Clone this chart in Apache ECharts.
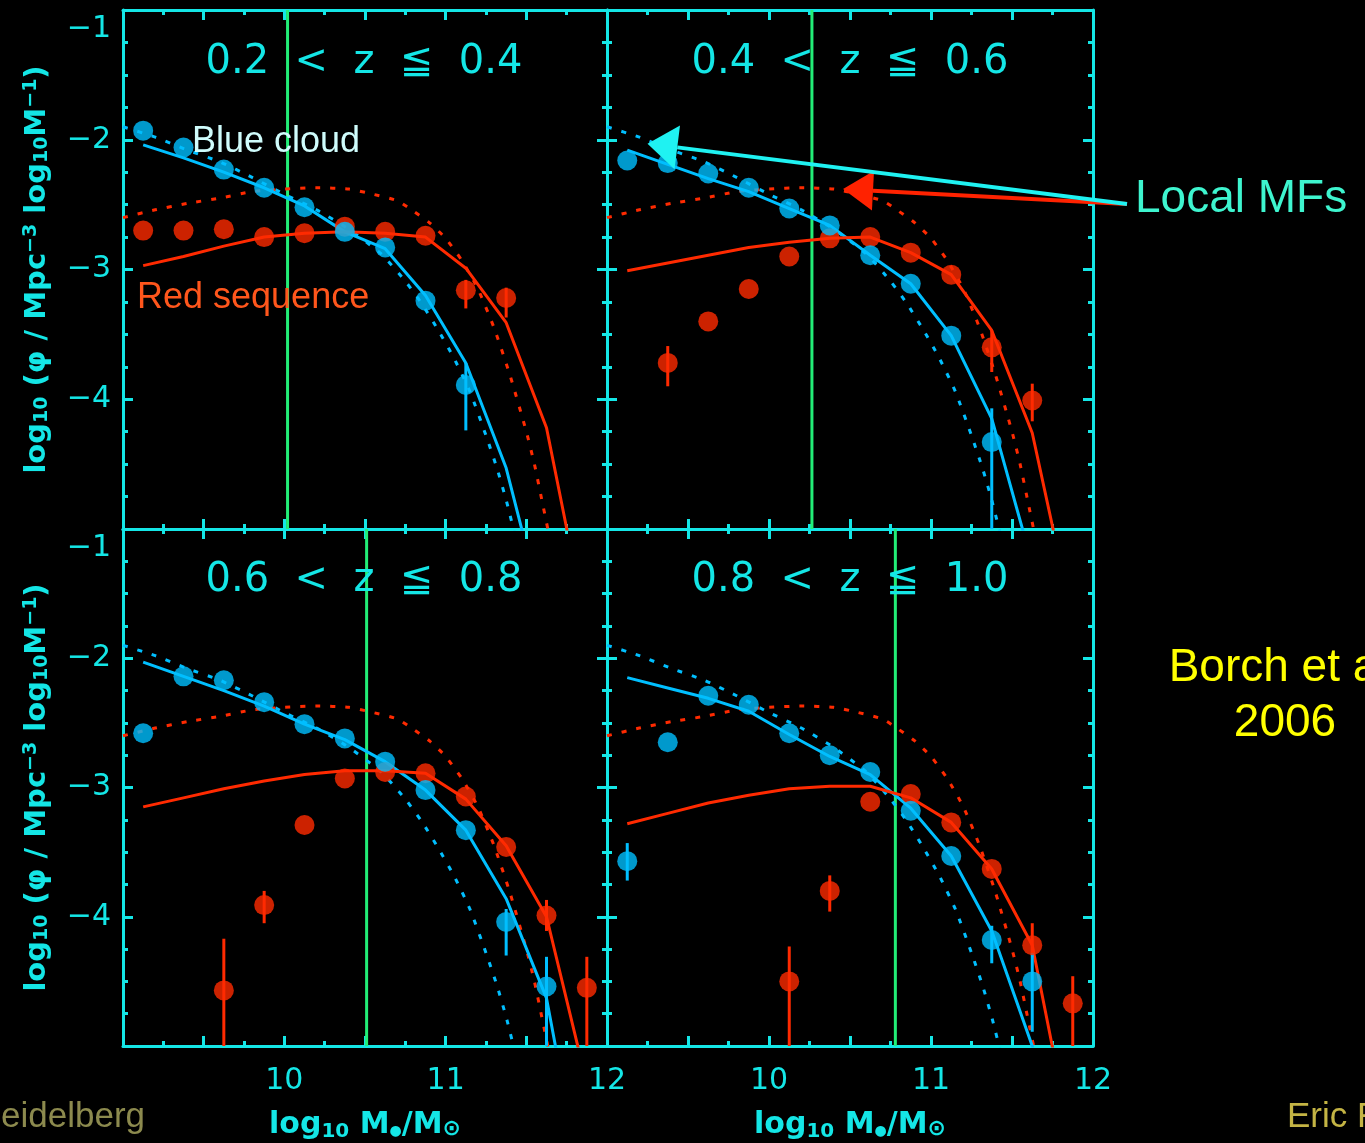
<!DOCTYPE html>
<html><head><meta charset="utf-8">
<script src="https://cdn.jsdelivr.net/npm/echarts@6/dist/echarts.min.js"></script>
<style>html,body{margin:0;padding:0;background:#000;overflow:hidden}#c{width:1365px;height:1143px}</style>
</head><body><div id="c"></div>
<script>
// ---------- data ----------
const massBins = [9.125, 9.375, 9.625, 9.875, 10.125, 10.375, 10.625, 10.875, 11.125, 11.375, 11.625, 11.875];

const panelTitles = ['0.2  <  z  \u2266  0.4', '0.4  <  z  \u2266  0.6', '0.6  <  z  \u2266  0.8', '0.8  <  z  \u2266  1.0'];
const completenessLimit = [10.02, 10.265, 10.51, 10.78];
const xTickLabels = ['10', '11', '12'];
const yTickLabels = [-1, -2, -3, -4];

// local (z~0) mass functions, same in every panel
const localBlueMF = [[9.0,-1.90],[9.2,-1.98],[9.4,-2.08],[9.6,-2.17],[9.8,-2.29],[10.0,-2.42],[10.2,-2.54],[10.4,-2.69],[10.6,-2.88],[10.75,-3.09],[10.85,-3.26],[10.95,-3.46],[11.05,-3.68],[11.15,-3.94],[11.25,-4.28],[11.32,-4.54],[11.38,-4.80],[11.43,-5.05]];
const localRedMF = [[9.0,-2.60],[9.2,-2.54],[9.4,-2.49],[9.6,-2.45],[9.8,-2.40],[10.0,-2.38],[10.2,-2.37],[10.4,-2.38],[10.55,-2.42],[10.7,-2.47],[10.8,-2.55],[10.9,-2.64],[11.0,-2.76],[11.1,-2.93],[11.2,-3.15],[11.3,-3.45],[11.4,-3.82],[11.5,-4.25],[11.55,-4.50],[11.6,-4.80],[11.65,-5.10]];

// 0.2 < z <= 0.4
const blueObs_z02 = [-1.93,-2.06,-2.23,-2.37,-2.52,-2.71,-2.83,-3.24,-3.89,null,null,null];
const redObs_z02  = [-2.70,-2.70,-2.69,-2.75,-2.72,-2.67,-2.71,-2.74,-3.16,-3.22,null,null];
const blueFit_z02 = [-2.04,-2.14,-2.25,-2.37,-2.51,-2.71,-2.84,-3.20,-3.72,-4.53,-5.75,null];
const redFit_z02  = [-2.97,-2.90,-2.82,-2.75,-2.72,-2.71,-2.72,-2.75,-2.99,-3.41,-4.22,-5.77];
const errBlue_z02 = [[11.125,-3.72,-4.24]];
const errRed_z02  = [[11.125,-3.08,-3.30],[11.375,-3.14,-3.37]];

// 0.4 < z <= 0.6
const blueObs_z04 = [-2.16,-2.18,-2.26,-2.37,-2.53,-2.66,-2.89,-3.11,-3.51,-4.33,null,null];
const redObs_z04  = [null,-3.72,-3.40,-3.15,-2.90,-2.76,-2.75,-2.87,-3.04,-3.60,-4.01,null];
const blueFit_z04 = [-2.08,-2.19,-2.30,-2.40,-2.53,-2.66,-2.89,-3.11,-3.51,-4.15,-5.27,null];
const redFit_z04  = [-3.01,-2.95,-2.89,-2.83,-2.79,-2.76,-2.75,-2.87,-3.04,-3.47,-4.26,-5.70];
const errBlue_z04 = [[11.375,-4.07,-5.5]];
const errRed_z04  = [[9.375,-3.59,-3.90],[11.375,-3.47,-3.79],[11.625,-3.88,-4.17]];

// 0.6 < z <= 0.8
const blueObs_z06 = [-2.58,-2.14,-2.17,-2.34,-2.51,-2.62,-2.80,-3.02,-3.33,-4.04,-4.54,null];
const redObs_z06  = [null,null,-4.57,-3.91,-3.29,-2.93,-2.88,-2.89,-3.07,-3.46,-3.99,-4.55];
const blueFit_z06 = [-2.03,-2.14,-2.25,-2.37,-2.51,-2.63,-2.80,-3.02,-3.33,-3.86,-4.63,-6.30];
const redFit_z06  = [-3.15,-3.08,-3.01,-2.95,-2.90,-2.87,-2.87,-2.89,-3.09,-3.45,-4.00,-5.29];
const errBlue_z06 = [[11.375,-3.94,-4.30],[11.625,-4.31,-5.5]];
const errRed_z06  = [[9.625,-4.17,-5.5],[9.875,-3.80,-4.05],[11.625,-3.87,-4.11],[11.875,-4.31,-5.5]];

// 0.8 < z <= 1.0
const blueObs_z08 = [-3.57,-2.65,-2.29,-2.36,-2.58,-2.75,-2.88,-3.18,-3.53,-4.18,-4.50,null];
const redObs_z08  = [null,null,null,null,-4.50,-3.80,-3.11,-3.05,-3.27,-3.63,-4.22,-4.67];
const blueFit_z08 = [-2.15,-2.23,-2.31,-2.41,-2.59,-2.76,-2.90,-3.16,-3.53,-4.11,-5.00,-6.00];
const redFit_z08  = [-3.28,-3.20,-3.12,-3.06,-3.01,-2.99,-2.99,-3.08,-3.27,-3.63,-4.22,-5.80];
const errBlue_z08 = [[9.125,-3.43,-3.72],[11.375,-4.07,-4.36],[11.625,-4.28,-4.89]];
const errRed_z08  = [[10.125,-4.23,-5.5],[10.375,-3.68,-3.96],[11.625,-4.05,-4.30],[11.875,-4.46,-5.5]];

// annotation arrows (data coords of the 0.4<z<=0.6 panel)
const arrowTail = [12.21, -2.495];
const arrowTipBlue = [9.25, -2.03];
const arrowTipRed = [10.457, -2.38];

// ---------- styling ----------
const CYAN = '#14e6e6', BLUE = '#00bfff', RED = '#ff2a00', GREEN = '#22ee77';
const FONT = '"DejaVu Sans", "Noto Sans", sans-serif';

const panels = [
  {blueObs: blueObs_z02, redObs: redObs_z02, blueFit: blueFit_z02, redFit: redFit_z02, errBlue: errBlue_z02, errRed: errRed_z02},
  {blueObs: blueObs_z04, redObs: redObs_z04, blueFit: blueFit_z04, redFit: redFit_z04, errBlue: errBlue_z04, errRed: errRed_z04},
  {blueObs: blueObs_z06, redObs: redObs_z06, blueFit: blueFit_z06, redFit: redFit_z06, errBlue: errBlue_z06, errRed: errRed_z06},
  {blueObs: blueObs_z08, redObs: redObs_z08, blueFit: blueFit_z08, redFit: redFit_z08, errBlue: errBlue_z08, errRed: errRed_z08}
];

const grids = [
  {left: 123, top: 10, width: 484, height: 519},
  {left: 607, top: 10, width: 486, height: 519},
  {left: 123, top: 529, width: 484, height: 519},
  {left: 607, top: 529, width: 486, height: 519}
];

function pairs(ys) {
  const out = [];
  ys.forEach((y, k) => { if (y !== null) out.push([massBins[k], y]); });
  return out;
}

const tickStyle = {color: CYAN, width: 3};
function xAxisCfg(i, pos, labels) {
  return {
    type: 'value', gridIndex: i, position: pos, min: 9, max: 12, interval: 0.5,
    axisLine: {show: true, onZero: false, lineStyle: {color: CYAN, width: 3}},
    axisTick: {show: true, inside: true, length: 10, lineStyle: tickStyle},
    minorTick: {show: true, splitNumber: 2, length: 5, lineStyle: tickStyle},
    splitLine: {show: false}, minorSplitLine: {show: false},
    axisLabel: {show: labels, margin: 20, color: CYAN, fontSize: 30, fontFamily: FONT,
      formatter: v => xTickLabels.includes(String(v)) ? String(v) : ''},
    name: labels ? '{a|log}{s|10}{a| M}{t|\u25cf}{a|/M}{o|\u2299}' : '',
    nameLocation: 'middle', nameGap: 62,
    nameTextStyle: {color: CYAN, rich: {
      a: {color: CYAN, fontSize: 30, fontWeight: 'bold', fontFamily: FONT},
      s: {color: CYAN, fontSize: 20, fontWeight: 'bold', fontFamily: FONT, padding: [14, 0, 0, 0]},
      t: {color: CYAN, fontSize: 14, fontWeight: 'bold', fontFamily: FONT, padding: [12, 0, 0, 0]},
      o: {color: CYAN, fontSize: 22, fontWeight: 'bold', fontFamily: FONT, padding: [8, 0, 0, 0]}
    }}
  };
}
function yAxisCfg(i, pos, labels) {
  return {
    type: 'value', gridIndex: i, position: pos, min: -5, max: -1, interval: 1,
    axisLine: {show: true, onZero: false, lineStyle: {color: CYAN, width: 3}},
    axisTick: {show: true, inside: true, length: 10, lineStyle: tickStyle},
    minorTick: {show: true, splitNumber: 4, length: 5, lineStyle: tickStyle},
    splitLine: {show: false}, minorSplitLine: {show: false},
    axisLabel: {show: labels, margin: 12, color: CYAN, fontSize: 30, fontFamily: FONT,
      verticalAlignMaxLabel: 'top', padding: [4, 0, 0, 0],
      formatter: v => yTickLabels.includes(v) ? '\u2212' + Math.abs(v) : ''},
    name: labels ? '{a|log}{s|10}{a| (\u03c6 / Mpc}{p|\u22123}{a| log}{s|10}{a|M}{p|\u22121}{a|)}' : '',
    nameLocation: 'middle', nameRotate: 90, nameGap: 70,
    nameTextStyle: {color: CYAN, rich: {
      a: {color: CYAN, fontSize: 29, fontWeight: 'bold', fontFamily: FONT},
      s: {color: CYAN, fontSize: 19, fontWeight: 'bold', fontFamily: FONT, padding: [10, 0, 0, 0]},
      p: {color: CYAN, fontSize: 19, fontWeight: 'bold', fontFamily: FONT, padding: [0, 0, 12, 0]}
    }}
  };
}

const xAxes = [], yAxes = [], series = [];
panels.forEach((p, i) => {
  const bottomRow = i >= 2, leftCol = i % 2 === 0;
  xAxes.push(xAxisCfg(i, 'bottom', bottomRow), xAxisCfg(i, 'top', false));
  yAxes.push(yAxisCfg(i, 'left', leftCol), yAxisCfg(i, 'right', false));
  const ax = {xAxisIndex: 2 * i, yAxisIndex: 2 * i};
  const lim = completenessLimit[i];
  series.push(
    Object.assign({type: 'line', data: [[lim, -1], [lim, -5]], symbol: 'none', lineStyle: {color: GREEN, width: 3}, z: 1, silent: true}, ax),
    Object.assign({type: 'line', data: localBlueMF, symbol: 'none', smooth: 0.2, lineStyle: {color: BLUE, width: 3, type: [5, 10]}, z: 2}, ax),
    Object.assign({type: 'line', data: localRedMF, symbol: 'none', smooth: 0.2, lineStyle: {color: RED, width: 3, type: [5, 10]}, z: 2}, ax),
    Object.assign({type: 'line', data: pairs(p.blueFit), symbol: 'none', lineStyle: {color: BLUE, width: 3}, z: 3}, ax),
    Object.assign({type: 'line', data: pairs(p.redFit), symbol: 'none', lineStyle: {color: RED, width: 3}, z: 3}, ax)
  );
  [[p.errRed, RED], [p.errBlue, BLUE]].forEach(([d, col]) => {
    series.push(Object.assign({
      type: 'custom', data: d, clip: true, z: 4, encode: {x: 0, y: [1, 2]},
      renderItem: (params, api) => {
        const x = api.value(0);
        const a = api.coord([x, api.value(1)]), b = api.coord([x, api.value(2)]);
        return {type: 'line', shape: {x1: a[0], y1: a[1], x2: b[0], y2: b[1]}, style: {stroke: col, lineWidth: 3}};
      }
    }, ax));
  });
  series.push(
    Object.assign({type: 'scatter', data: pairs(p.redObs), symbol: 'circle', symbolSize: 20, itemStyle: {color: RED}, z: 5}, ax),
    Object.assign({type: 'scatter', data: pairs(p.blueObs), symbol: 'circle', symbolSize: 20, itemStyle: {color: BLUE}, z: 6}, ax)
  );
});

const titlePos = [[364, 63], [850, 63], [364, 581], [850, 581]];
const graphics = panelTitles.map((t, i) => ({
  type: 'text', id: 'title' + i, x: titlePos[i][0], y: titlePos[i][1], z: 10,
  style: {text: t, fill: CYAN, fontSize: 40, fontWeight: 'normal', fontFamily: FONT, align: 'center', verticalAlign: 'middle'}
}));
graphics.push(
  {type: 'text', id: 'bc', x: 192, y: 142, z: 10, style: {text: 'Blue cloud', fill: '#cffcfc', fontSize: 36, fontFamily: '"Liberation Sans", Arial, sans-serif', verticalAlign: 'middle', shadowColor: '#3d7a7a', shadowOffsetX: 2, shadowOffsetY: 2}},
  {type: 'text', id: 'rs', x: 137, y: 298, z: 10, style: {text: 'Red sequence', fill: '#ff561c', fontSize: 36, fontFamily: '"Liberation Sans", Arial, sans-serif', verticalAlign: 'middle', shadowColor: '#ffffff', shadowOffsetX: -1.5, shadowOffsetY: 1.5}},
  {type: 'text', id: 'lm', x: 1135, y: 199, z: 10, style: {text: 'Local MFs', fill: '#3ef5cf', fontSize: 46, fontFamily: '"Liberation Sans", Arial, sans-serif', verticalAlign: 'middle', shadowColor: '#1a6655', shadowOffsetX: 2, shadowOffsetY: 2}},
  {type: 'text', id: 'b1', x: 1285, y: 668, z: 10, style: {text: 'Borch et al.', fill: '#ffff00', fontSize: 46, fontFamily: '"Liberation Sans", Arial, sans-serif', align: 'center', verticalAlign: 'middle', shadowColor: '#555500', shadowOffsetX: 2, shadowOffsetY: 2}},
  {type: 'text', id: 'b2', x: 1285, y: 723, z: 10, style: {text: '2006', fill: '#ffff00', fontSize: 46, fontFamily: '"Liberation Sans", Arial, sans-serif', align: 'center', verticalAlign: 'middle', shadowColor: '#555500', shadowOffsetX: 2, shadowOffsetY: 2}},
  {type: 'text', id: 'hd', x: 145, y: 1117, z: 10, style: {text: 'Heidelberg', fill: '#8c8a4e', fontSize: 35, fontFamily: '"Liberation Sans", Arial, sans-serif', align: 'right', verticalAlign: 'middle'}},
  {type: 'text', id: 'ef', x: 1287, y: 1117, z: 10, style: {text: 'Eric F. Bell', fill: '#c4b444', fontSize: 35, fontFamily: '"Liberation Sans", Arial, sans-serif', align: 'left', verticalAlign: 'middle'}}
);

const option = {
  backgroundColor: '#000000',
  animation: false,
  grid: grids,
  xAxis: xAxes,
  yAxis: yAxes,
  series: series,
  graphic: graphics
};

const chart = echarts.init(document.getElementById('c'), null, {renderer: 'canvas'});
chart.setOption(option);

function arrow(id, fromD, toD, color, headLen, headHalf, lw) {
  const a = chart.convertToPixel({gridIndex: 1}, fromD);
  const b = chart.convertToPixel({gridIndex: 1}, toD);
  const dx = a[0] - b[0], dy = a[1] - b[1], L = Math.hypot(dx, dy);
  const ux = dx / L, uy = dy / L;
  const bx = b[0] + ux * headLen, by = b[1] + uy * headLen;
  return [
    {type: 'line', id: id + 'l', z: 20, shape: {x1: a[0], y1: a[1], x2: bx, y2: by}, style: {stroke: color, lineWidth: lw}},
    {type: 'polygon', id: id + 'h', z: 20, shape: {points: [[b[0], b[1]], [bx - uy * headHalf, by + ux * headHalf], [bx + uy * headHalf, by - ux * headHalf]]}, style: {fill: color}}
  ];
}
chart.setOption({graphic: [].concat(
  arrow('ar', arrowTail, arrowTipRed, '#ff2200', 30, 20, 4),
  arrow('ab', arrowTail, arrowTipBlue, '#1ff2f2', 30, 22, 4)
)});
</script>
</body></html>
